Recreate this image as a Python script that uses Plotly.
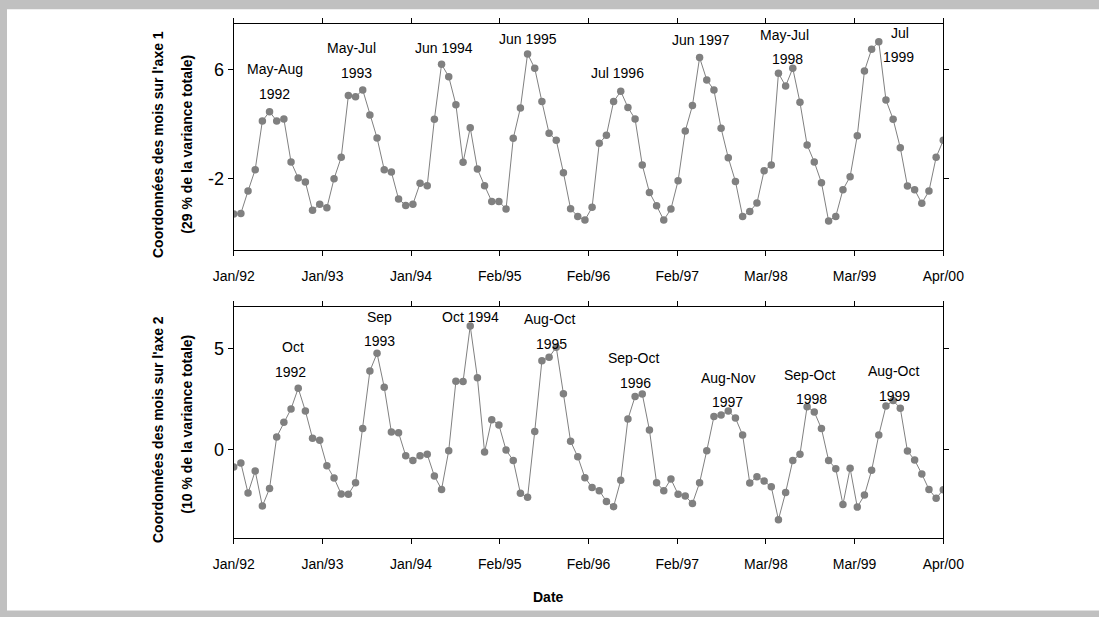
import plotly.graph_objects as go

# Monthly series, January 1992 to April 2000 (100 months)
axis1_scores = [
    -4.56, -4.51, -2.88, -1.32, 2.23, 2.91, 2.23, 2.37, -0.76, -1.93,
    -2.22, -4.29, -3.85, -4.10, -1.98, -0.42, 4.08, 4.00, 4.49, 2.67,
    0.99, -1.32, -1.49, -3.46, -3.93, -3.85, -2.32, -2.49, 2.35, 6.36,
    5.46, 3.42, -0.79, 1.74, -1.27, -2.49, -3.64, -3.64, -4.19, 0.96,
    3.18, 7.12, 6.07, 3.64, 1.33, 0.82, -1.54, -4.17, -4.73, -5.00,
    -4.07, 0.60, 1.18, 3.64, 4.39, 3.22, 2.37, -0.98, -2.98, -3.95,
    -5.00, -4.19, -2.13, 1.50, 3.35, 6.85, 5.22, 4.49, 1.69, -0.45,
    -2.18, -4.73, -4.37, -3.76, -1.40, -0.98, 5.71, 4.78, 6.07, 3.59,
    0.48, -0.76, -2.27, -5.07, -4.73, -2.78, -1.83, 1.16, 5.88, 7.46,
    8.00, 3.76, 2.35, 0.28, -2.52, -2.78, -3.78, -2.88, -0.42, 0.82,
]

axis2_scores = [
    -0.86, -0.66, -2.14, -1.05, -2.78, -1.92, 0.63, 1.35, 2.01, 3.03,
    1.91, 0.56, 0.46, -0.79, -1.40, -2.19, -2.20, -1.63, 1.05, 3.88,
    4.75, 3.08, 0.87, 0.84, -0.30, -0.53, -0.30, -0.23, -1.30, -1.96,
    -0.05, 3.37, 3.36, 6.10, 3.55, -0.12, 1.48, 1.22, -0.02, -0.53,
    -2.15, -2.35, 0.90, 4.39, 4.56, 5.05, 2.76, 0.41, -0.35, -1.38,
    -1.86, -2.02, -2.55, -2.81, -1.51, 1.51, 2.62, 2.75, 0.97, -1.63,
    -2.02, -1.45, -2.20, -2.29, -2.65, -1.63, -0.05, 1.63, 1.71, 1.91,
    1.56, 0.72, -1.64, -1.33, -1.55, -1.83, -3.45, -2.11, -0.53, -0.23,
    2.12, 1.86, 1.04, -0.53, -0.94, -2.70, -0.92, -2.83, -2.24, -1.02,
    0.72, 2.15, 2.42, 2.04, -0.07, -0.51, -1.20, -1.96, -2.40, -1.97,
]

month_index = list(range(len(axis1_scores)))

# Eight equal intervals across the 100-month span
x_tick_positions = [i * 99 / 8 for i in range(9)]
x_tick_labels = ["Jan/92", "Jan/93", "Jan/94", "Feb/95", "Feb/96",
                 "Feb/97", "Mar/98", "Mar/99", "Apr/00"]

y1_tick_values = [-2, 6]
y1_tick_labels = ["-2", "6"]
y2_tick_values = [0, 5]
y2_tick_labels = ["0", "5"]

# Peak labels: (text, month index, score)
peaks_axis1 = [
    ("May-Aug", 5.7, 6.0), ("1992", 5.7, 4.2),
    ("May-Jul", 16.5, 7.53), ("1993", 17.1, 5.75),
    ("Jun 1994", 29.4, 7.53),
    ("Jun 1995", 41.0, 8.21),
    ("Jul 1996", 53.5, 5.71),
    ("Jun 1997", 65.2, 8.14),
    ("May-Jul", 76.9, 8.5), ("1998", 77.3, 6.73),
    ("Jul", 93.0, 8.63), ("1999", 92.8, 6.92),
]
peaks_axis2 = [
    ("Oct", 8.3, 5.08), ("1992", 7.95, 3.85),
    ("Sep", 20.4, 6.53), ("1993", 20.3, 5.35),
    ("Oct 1994", 33.1, 6.53),
    ("Aug-Oct", 44.0, 6.44), ("1995", 44.3, 5.21),
    ("Sep-Oct", 55.8, 4.51), ("1996", 56.1, 3.30),
    ("Aug-Nov", 68.9, 3.52), ("1997", 68.9, 2.37),
    ("Sep-Oct", 80.3, 3.68), ("1998", 80.6, 2.49),
    ("Aug-Oct", 92.0, 3.88), ("1999", 92.2, 2.66),
]

W, H = 1099, 617
FONT = "Arial, Liberation Sans, sans-serif"
GREY = "#808080"

fig = go.Figure()
for scores, xa, ya in [(axis1_scores, "x", "y"), (axis2_scores, "x2", "y2")]:
    fig.add_trace(go.Scatter(
        x=month_index, y=scores, xaxis=xa, yaxis=ya, mode="lines+markers",
        line=dict(color=GREY, width=1),
        marker=dict(color=GREY, size=7.5),
        showlegend=False, hoverinfo="skip",
    ))

x_dom = [233.7 / W, 943.3 / W]
common_x = dict(
    range=[0, 99], tickmode="array", tickvals=x_tick_positions,
    ticktext=x_tick_labels, ticks="outside", ticklen=5, tickwidth=1,
    tickcolor="black", showline=True, linecolor="black", linewidth=1.3,
    mirror="ticks", showgrid=False, zeroline=False, automargin=False,
    ticklabelstandoff=8,
    tickfont=dict(family=FONT, size=14, color="black"), domain=x_dom,
)
common_y = dict(
    tickmode="array", ticks="outside", ticklen=5, tickwidth=1,
    tickcolor="black", showline=True, linecolor="black", linewidth=1.3,
    mirror="ticks", showgrid=False, zeroline=False, automargin=False,
    tickfont=dict(family=FONT, size=18, color="black"),
)

label_font = dict(family=FONT, size=14, color="black")
annotations = []
for txt, xv, yv in peaks_axis1:
    annotations.append(dict(text=txt, x=xv, y=yv, xref="x", yref="y",
                            xanchor="center", yanchor="middle",
                            showarrow=False, font=label_font))
for txt, xv, yv in peaks_axis2:
    annotations.append(dict(text=txt, x=xv, y=yv, xref="x2", yref="y2",
                            xanchor="center", yanchor="middle",
                            showarrow=False, font=label_font))

bold = dict(family=FONT, size=14, color="black")
for line, xpx, ypx in [
    ("Coordonnées des mois sur l'axe 1", 158, 145),
    ("(29 % de la variance totale)", 186.7, 144),
    ("Coordonnées des mois sur l'axe 2", 158, 430),
    ("(10 % de la variance totale)", 186.7, 424),
]:
    annotations.append(dict(text=f"<b>{line}</b>", x=xpx / W, y=1 - ypx / H,
                            xref="paper", yref="paper", textangle=-90,
                            xanchor="center", yanchor="middle",
                            showarrow=False, font=bold))
annotations.append(dict(text="<b>Date</b>", x=548 / W, y=1 - 597 / H,
                        xref="paper", yref="paper", xanchor="center",
                        yanchor="middle", showarrow=False, font=bold))

fig.update_layout(
    width=W, height=H, autosize=False,
    margin=dict(l=0, r=0, t=0, b=0, pad=0, autoexpand=False),
    paper_bgcolor="#c0c0c0", plot_bgcolor="white",
    xaxis=dict(common_x, anchor="y"),
    xaxis2=dict(common_x, anchor="y2"),
    yaxis=dict(common_y, range=[-7.18, 9.30], tickvals=y1_tick_values,
               ticktext=y1_tick_labels,
               domain=[1 - 250 / H, 1 - 24 / H], anchor="x"),
    yaxis2=dict(common_y, range=[-4.37, 7.02], tickvals=y2_tick_values,
                ticktext=y2_tick_labels,
                domain=[1 - 538.3 / H, 1 - 307.3 / H], anchor="x2"),
    annotations=annotations,
    shapes=[dict(type="rect", xref="paper", yref="paper", layer="below",
                 x0=7 / W, x1=1.01, y0=1 - 610.5 / H, y1=1 - 9.3 / H,
                 fillcolor="white", line=dict(width=0))],
)

fig.write_html("out.html")
